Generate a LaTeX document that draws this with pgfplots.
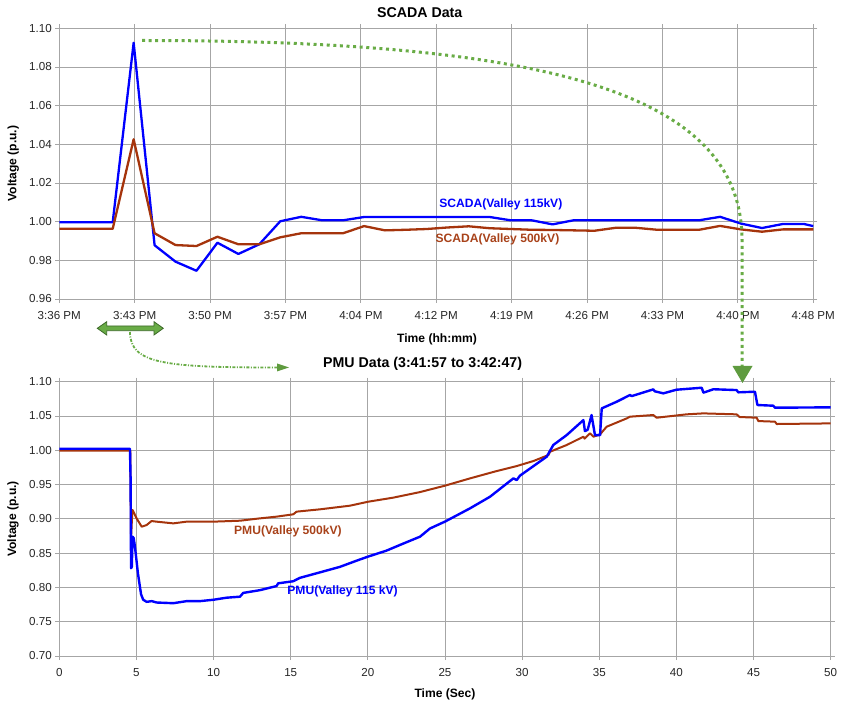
\documentclass[border=0pt]{standalone}
\usepackage{fontspec}
\setmainfont{Liberation Sans}
\usepackage{pgfplots}
\pgfplotsset{compat=1.18}

\definecolor{scadablue}{RGB}{0,0,255}
\definecolor{rust}{RGB}{165,52,12}
\definecolor{rustlabel}{RGB}{168,66,26}
\definecolor{dotgreen}{RGB}{105,172,70}
\definecolor{darkgreen}{RGB}{60,105,40}

\pgfplotsset{
  panel/.style={
    scale only axis,
    grid=major,
    grid style={gray!70, line width=0.8pt},
    axis line style={gray!70, line width=0.8pt},
    tick style={gray!70, line width=0.8pt},
    tick align=outside,
    major tick length=4pt,
    every axis title shift=0pt,
    tick label style={font=\fontsize{11.6}{13}\selectfont, text=black!85},
    label style={font=\bfseries\fontsize{12.1}{14}\selectfont},
    title style={font=\bfseries\fontsize{14.2}{16}\selectfont},
    yticklabel style={/pgf/number format/.cd, fixed, fixed zerofill, precision=2, assume math mode=true},
    xticklabel style={/pgf/number format/assume math mode=true, yshift=-5pt},
    every axis plot/.append style={line join=round},
  },
}

\begin{document}
\begin{tikzpicture}
\path[use as bounding box] (0pt,0pt) rectangle (841pt,705pt);

% SCADA, minutes after 3:36 PM
\begin{axis}[panel,
  at={(59.3pt,406pt)}, anchor=south west,
  width=754pt, height=270.7pt,
  xmin=0, xmax=72, ymin=0.96, ymax=1.10,
  xtick={0,7.2,14.4,21.6,28.8,36,43.2,50.4,57.6,64.8,72},
  xticklabels={3:36 PM,3:43 PM,3:50 PM,3:57 PM,4:04 PM,4:12 PM,4:19 PM,4:26 PM,4:33 PM,4:40 PM,4:48 PM},
  ytick={0.96,0.98,1.00,1.02,1.04,1.06,1.08,1.10},
  title={SCADA Data},
  title style={at={(axis description cs:0.478,1.0565)}, anchor=center},
  xlabel={Time (hh:mm)},
  xlabel style={at={(axis description cs:0.501,-0.148)}, anchor=center},
  ylabel={Voltage (p.u.)},
  ylabel style={at={(axis description cs:-0.061,0.5)}, anchor=center},
]
\addplot[scadablue, line width=2.3pt] coordinates {
  (0,0.9997) (5.1,0.9997) (7.1,1.0925) (9.1,0.9878) (11.1,0.9793) (13.1,0.9746)
  (15.1,0.9891) (17.1,0.9833) (19.1,0.9883) (21.1,1.0002) (23.1,1.0025)
  (25.1,1.0007) (27.1,1.0007) (29.1,1.0024) (31.1,1.0024) (33.1,1.0024)
  (35.1,1.0024) (37.1,1.0024) (39.1,1.0024) (41.1,1.0024) (43.1,1.0007)
  (45.1,1.0007) (47.1,0.9986) (49.1,1.0007) (51.1,1.0007) (53.1,1.0007)
  (55.1,1.0007) (57.1,1.0007) (59.1,1.0007) (61.1,1.0007) (63.1,1.0025)
  (65.1,0.9990) (67.1,0.9967) (69.1,0.9988) (71.1,0.9988) (72,0.9977)
};
\addplot[rust, line width=2.3pt] coordinates {
  (0,0.9963) (5.1,0.9963) (7.1,1.0426) (9.1,0.9940) (11.1,0.9879) (13.1,0.9874)
  (15.1,0.9922) (17.1,0.9883) (19.1,0.9883) (21.1,0.9919) (23.1,0.9940)
  (25.1,0.9940) (27.1,0.9940) (29.1,0.9977) (31.1,0.9955) (33.1,0.9958)
  (35.1,0.9962) (37.1,0.9970) (39.1,0.9976) (41.1,0.9966) (43.1,0.9962)
  (45.1,0.9958) (47.1,0.9957) (49.1,0.9955) (51.1,0.9953) (53.1,0.9968)
  (55.1,0.9968) (57.1,0.9958) (59.1,0.9958) (61.1,0.9958) (63.1,0.9978)
  (65.1,0.9960) (67.1,0.9948) (69.1,0.9960) (71.1,0.9960) (72,0.9960)
};
\node[text=scadablue, font=\bfseries\fontsize{12.1}{14}\selectfont] at (axis cs:42.16,1.0091) {SCADA(Valley 115kV)};
\node[text=rustlabel, font=\bfseries\fontsize{12.1}{14}\selectfont] at (axis cs:41.84,0.9910) {SCADA(Valley 500kV)};
\end{axis}

% PMU, seconds after 3:41:57
\begin{axis}[panel,
  at={(59.3pt,49pt)}, anchor=south west,
  width=771.4pt, height=274.3pt,
  xmin=0, xmax=50, ymin=0.70, ymax=1.10,
  xtick={0,5,...,50},
  ytick={0.70,0.75,0.80,0.85,0.90,0.95,1.00,1.05,1.10},
  title={PMU Data (3:41:57 to 3:42:47)},
  title style={at={(axis description cs:0.471,1.0645)}, anchor=center},
  xlabel={Time (Sec)},
  xlabel style={at={(axis description cs:0.5,-0.1396)}, anchor=center},
  ylabel={Voltage (p.u.)},
  ylabel style={at={(axis description cs:-0.060,0.5)}, anchor=center},
]
\addplot[rust, line width=2pt] coordinates {
  (0,0.9994) (4.60,0.9994) (4.65,0.871) (4.72,0.905) (4.75,0.913) (5.01,0.9007)
  (5.34,0.8886) (5.66,0.8910) (5.98,0.8968) (6.31,0.8959) (7.39,0.8934)
  (8.25,0.8959) (9.98,0.8959) (11.71,0.8973) (13.0,0.9007) (14.08,0.9032)
  (15.16,0.9066) (15.38,0.9105) (16.9,0.9139) (18.84,0.9192) (20.02,0.9250)
  (21.64,0.9309) (23.37,0.9390) (25,0.9484) (26.62,0.9590) (28.35,0.9697)
  (29.65,0.9770) (30.73,0.9843) (31.7,0.9930) (31.81,0.9979) (32.89,1.0077)
  (33.97,1.0198) (34.05,1.0170) (34.4,1.0247) (34.62,1.0198) (35.05,1.0232)
  (35.48,1.0344) (36.78,1.0465) (36.99,1.0490) (38.5,1.0514) (38.72,1.0475)
  (40.66,1.0524) (41.74,1.0538) (43.9,1.0524) (44.1,1.0485) (45.2,1.0475)
  (45.31,1.0426) (46.39,1.0417) (46.5,1.0383) (50,1.0392)
};
\addplot[scadablue, line width=2.4pt] coordinates {
  (0,1.0023) (4.58,1.0023) (4.62,0.960) (4.65,0.828) (4.70,0.830) (4.75,0.874)
  (4.82,0.872) (4.90,0.860) (5.10,0.820) (5.30,0.790) (5.44,0.782) (5.66,0.779)
  (6.0,0.780) (6.31,0.778) (7.39,0.777) (8.25,0.780) (9.11,0.780) (9.98,0.782)
  (10.84,0.785) (11.71,0.7865) (11.92,0.792) (13.0,0.796) (14.08,0.802)
  (14.19,0.806) (15.16,0.809) (15.6,0.814) (16.9,0.822) (18.19,0.830)
  (19.27,0.839) (20.02,0.845) (21.2,0.8536) (22.3,0.864) (23.38,0.874)
  (24.03,0.886) (25,0.896) (26.62,0.9153) (27.92,0.9323) (29.43,0.959)
  (29.65,0.9566) (29.86,0.963) (31.59,0.9906) (32.02,1.0077) (32.89,1.0222)
  (33.97,1.044) (34.07,1.028) (34.25,1.030) (34.5,1.0514) (34.72,1.022)
  (35.05,1.022) (35.16,1.0611) (36.13,1.0708) (36.99,1.0806) (37.1,1.079)
  (38.5,1.0888) (38.6,1.086) (39.15,1.083) (40.0,1.0883) (41.64,1.0912)
  (41.75,1.084) (42.4,1.089) (43.9,1.0878) (44.01,1.0845) (45.09,1.0854)
  (45.25,1.066) (46.28,1.065) (46.39,1.0621) (50,1.0626)
};
\node[text=rustlabel, font=\bfseries\fontsize{12.1}{14}\selectfont] at (axis cs:14.82,0.8823) {PMU(Valley 500kV)};
\node[text=scadablue, font=\bfseries\fontsize{12.1}{14}\selectfont] at (axis cs:18.36,0.7938) {PMU(Valley 115 kV)};
\end{axis}

% green call-outs, in pixel positions measured from the top left
\begin{scope}[x=1pt, y=-1pt, shift={(0pt,705pt)}]
  \draw[dotgreen, line width=3pt, dash pattern=on 3pt off 3.6pt]
    (142,40.5) .. controls (540,40.5) and (742,90) .. (742,240) -- (742,367);
  \fill[dotgreen!90!black] (732.5,366) -- (752.5,366) -- (742.5,383) -- cycle;
  \draw[dotgreen, line width=1.8pt, dash pattern=on 3pt off 1.5pt on 1pt off 1.5pt]
    (130,332) .. controls (130,364) and (165,367.5) .. (278,367.5);
  \fill[dotgreen!90!black] (277,363.5) -- (289,367.5) -- (277,371.5) -- cycle;
  \filldraw[fill=dotgreen, draw=darkgreen, line width=0.8pt]
    (97.3,328.3) -- (106.7,321.7) -- (106.7,326) -- (154,326) -- (154,321.7)
    -- (163.3,328.3) -- (154,335) -- (154,330.7) -- (106.7,330.7) -- (106.7,335) -- cycle;
\end{scope}
\end{tikzpicture}
\end{document}
